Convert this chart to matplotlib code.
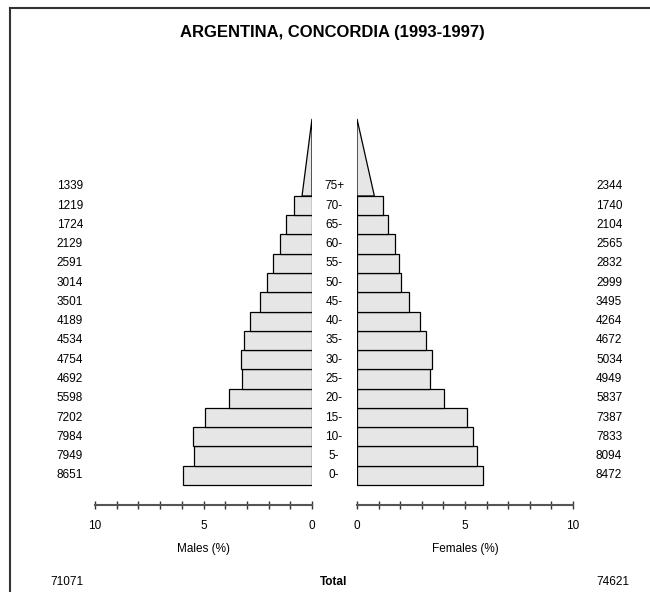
import matplotlib
matplotlib.use("Agg")
import matplotlib.pyplot as plt
from matplotlib import transforms
from matplotlib.patches import Polygon
from matplotlib.lines import Line2D
import numpy as np

plt.rcParams['font.family'] = ['Liberation Sans', 'DejaVu Sans']

title = "ARGENTINA, CONCORDIA (1993-1997)"
ages = ['0-', '5-', '10-', '15-', '20-', '25-', '30-', '35-', '40-', '45-',
        '50-', '55-', '60-', '65-', '70-', '75+']
males = [8651, 7949, 7984, 7202, 5598, 4692, 4754, 4534, 4189, 3501,
         3014, 2591, 2129, 1724, 1219, 1339]
females = [8472, 8094, 7833, 7387, 5837, 4949, 5034, 4672, 4264, 3495,
           2999, 2832, 2565, 2104, 1740, 2344]
total_m = 71071
total_f = 74621
ticks = list(range(0, 11))
tick_labels = ['0', '', '', '', '', '5', '', '', '', '', '10']

W, H = 650, 592
fig = plt.figure(figsize=(W / 100, H / 100), dpi=100)

def fx(px):
    return px / W

def fy(py):
    return 1 - py / H

grand = total_m + total_f
pct_m = np.array(males) / grand * 100
pct_f = np.array(females) / grand * 100

# axes geometry (px)
row = 19.27
y0 = 485          # bottom of 0- row
axis_y = 505
top_px = y0 - 20 * row
bottom_val = -(axis_y - y0) / row

axm = fig.add_axes([fx(95), fy(axis_y), fx(312) - fx(95), (axis_y - top_px) / H])
axf = fig.add_axes([fx(357), fy(axis_y), fx(573) - fx(357), (axis_y - top_px) / H])

fill = '#e6e6e6'
for ax, pct, lim, lab in [(axm, pct_m, (10, 0), 'Males (%)'),
                          (axf, pct_f, (0, 10), 'Females (%)')]:
    n = len(pct) - 1
    ax.barh(np.arange(n) + 0.5, pct[:n], height=1, left=0,
            color=fill, edgecolor='black', linewidth=0.9)
    # open-ended group drawn as a triangle of equal area
    b = pct[n] / 2
    ax.add_patch(Polygon([(0, n), (b, n), (0, n + 4)], closed=True,
                         facecolor=fill, edgecolor='black', linewidth=0.9))
    ax.set_xlim(*lim)
    ax.set_ylim(bottom_val, 20)
    for s in ['top', 'left', 'right']:
        ax.spines[s].set_visible(False)
    ax.spines['bottom'].set_color('#555555')
    ax.spines['bottom'].set_linewidth(1.5)
    ax.set_xticks(ticks)
    ax.set_xticklabels(tick_labels)
    ax.tick_params(axis='x', direction='inout', length=6, width=1,
                   color='#333333', labelsize=8.5, pad=7.5)
    ax.set_yticks([])
    ax.patch.set_visible(False)
    ax.set_xlabel(lab, fontsize=8.5, labelpad=8.5)

tr = transforms.blended_transform_factory(fig.transFigure, axm.transData)
for i, a in enumerate(ages):
    fig.text(fx(334), i + 0.5, a, transform=tr, ha='center', va='center', fontsize=8.5)
    fig.text(fx(83), i + 0.5, str(males[i]), transform=tr, ha='right', va='center', fontsize=8.5)
    fig.text(fx(596), i + 0.5, str(females[i]), transform=tr, ha='left', va='center', fontsize=8.5)

fig.text(fx(332), fy(33), title, ha='center', va='center', fontsize=12, fontweight='bold')
fig.text(fx(83), fy(582), str(total_m), ha='right', va='center', fontsize=8.5)
fig.text(fx(334), fy(582), 'Total', ha='center', va='center', fontsize=8.5, fontweight='bold')
fig.text(fx(596), fy(582), str(total_f), ha='left', va='center', fontsize=8.5)

# frame lines
fig.add_artist(Line2D([fx(10), 1], [fy(8), fy(8)], color='#333333', linewidth=1.5))
fig.add_artist(Line2D([fx(10), fx(10)], [fy(8), 0], color='#333333', linewidth=1.5))

fig.savefig('out.png', dpi=100)
